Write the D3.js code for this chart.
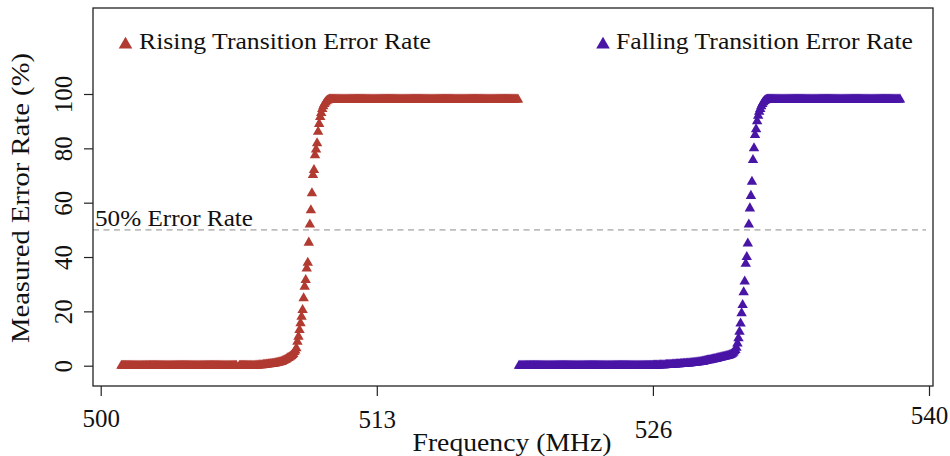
<!DOCTYPE html>
<html><head><meta charset="utf-8">
<script src="https://cdn.jsdelivr.net/npm/d3@7/dist/d3.min.js"></script>
<style>body{margin:0;background:#fff}svg{display:block}text{font-family:"Liberation Serif","Times New Roman",serif;fill:#111}</style>
</head><body><svg id="chart" width="950" height="456"></svg>
<script>
// ---------------- data ----------------
const seriesNames = ["Rising Transition Error Rate", "Falling Transition Error Rate"];
const seriesColors = ["#B13A31", "#4915A6"];
const stepMHz = 0.05;            // frequency sweep step
const risingStartMHz = 501.0;    // first rising-sweep frequency
const fallingStartMHz = 520.2;   // first falling-sweep frequency

// measured error rate (%) for each sweep step (null = no sample)
const risingRate = [
0,0,0,0,0,0,0,0,0,0,0,0,0,0,0,0,0,0,0,0,
0,0,0,0,0,0,0,0,0,0,0,0,0,0,0,0,0,0,0,0,
0,0,0,0,0,0,0,0,0,0,0,0,0,0,0,0,0,0,0,0,
0,0,0,0,0,0,0,0,0,0,0,0,0,0,0,0,0,0,0,0,
0,0,0,0,0,0,0,0,0,0,0,0,0,0,0,0,0,0,0,0,
0,0,0,0,0,0,0,0,0,0,0,0,null,null,0,0,0,0,0,0,
0,0,0,0,0,0,0,0,0,0,
0.1,0.1,0.1,0.2,0.2,0.2,0.2,0.3,0.3,0.3,
0.4,0.4,0.5,0.5,0.6,0.6,0.7,0.7,0.8,0.9,
1.0,1.1,1.2,1.3,1.4,1.5,1.7,1.9,2.1,2.3,
2.6,2.8,3.0,3.3,3.6,3.9,4.3,5.0,
5.6,6.4,8.8,10.7,13.1,15.6,18.0,20.5,24.8,29.1,31.5,35.8,37.9,45.3,52.0,57.2,63.5,70.2,72.0,77.5,
79.6,81.9,86.1,89.0,91.5,93.0,94.5,95.5,96.3,96.9,97.3,97.6,97.8,
98,98,98,98,98,98,98,98,98,98,98,98,98,98,98,98,98,98,98,98,
98,98,98,98,98,98,98,98,98,98,98,98,98,98,98,98,98,98,98,98,
98,98,98,98,98,98,98,98,98,98,98,98,98,98,98,98,98,98,98,98,
98,98,98,98,98,98,98,98,98,98,98,98,98,98,98,98,98,98,98,98,
98,98,98,98,98,98,98,98,98,98,98,98,98,98,98,98,98,98,98,98,
98,98,98,98,98,98,98,98,98,98,98,98,98,98,98,98,98,98,98,98,
98,98,98,98,98,98,98,98,98,98,98,98,98,98,98,98,98,98,98,98,
98,98,98,98,98,98,98,98,98,98,98,98,98,98,98,98,98,98,98,98,
98,98,98,98,98,98,98,98,98,98,98,98,98,98,98,98,98,98,98,98,
98,98,98
];

const fallingRate = [
0,0,0,0,0,0,0,0,0,0,0,0,0,0,0,0,0,0,0,0,
0,0,0,0,0,0,0,0,0,0,0,0,0,0,0,0,0,0,0,0,
0,0,0,0,0,0,0,0,0,0,0,0,0,0,0,0,0,0,0,0,
0,0,0,0,0,0,0,0,0,0,0,0,0,0,0,0,0,0,0,0,
0,0,0,0,0,0,0,0,0,0,0,0,0,0,0,0,0,0,0,0,
0,0,0,0,0,0,0,0,0,0,0,0,0,0,0,0,0,0,0,0,
0,0,0,0,0,0,0,0,0,0,
0.1,0.1,0.1,0.1,0.1,0.1,0.2,0.2,0.2,0.2,0.2,0.2,0.3,0.3,0.3,0.3,0.3,0.3,0.4,0.4,
0.4,0.4,0.5,0.5,0.5,0.5,
0.6,0.6,0.6,0.7,0.7,0.7,0.8,0.8,0.8,0.9,0.9,1.0,1.0,1.1,1.1,1.2,1.2,1.3,1.3,1.4,
1.4,1.5,1.5,1.6,1.7,1.8,1.9,2.0,2.0,2.1,2.2,2.3,2.4,2.5,2.5,2.6,2.7,2.8,2.9,3.0,
3.1,3.2,3.3,3.4,3.5,3.6,3.7,3.8,3.9,4.1,
4.4,4.8,5.3,5.8,6.6,8.2,10.1,12.5,15.5,19.3,22.3,27.0,31.0,37.5,40.0,45.0,52.0,57.9,62.5,67.7,
75.7,80.0,84.9,87.0,90.0,92.0,93.5,94.5,95.5,96.3,97.0,97.4,97.7,97.9,
98,98,98,98,98,98,98,98,98,98,98,98,98,98,98,98,98,98,98,98,
98,98,98,98,98,98,98,98,98,98,98,98,98,98,98,98,98,98,98,98,
98,98,98,98,98,98,98,98,98,98,98,98,98,98,98,98,98,98,98,98,
98,98,98,98,98,98,98,98,98,98,98,98,98,98,98,98,98,98,98,98,
98,98,98,98,98,98,98,98,98,98,98,98,98,98,98,98,98,98,98,98,
98,98,98,98,98,98,98,98,98,98,98,98,98,98,98,98,98,98,98,98,
98,98,98,98,98,98,98,98,98
];

const xTickValues = [500, 513.333, 526.667, 540];
const xTickLabels = ["500", "513", "526", "540"];
const yTickValues = [0, 20, 40, 60, 80, 100];
const thresholdRate = 50;
const thresholdLabel = "50% Error Rate";
const xTitle = "Frequency (MHz)";
const yTitle = "Measured Error Rate (%)";

// ---------------- layout ----------------
const box = {left: 93, top: 8, right: 933, bottom: 386};
const xLabelShift = [0, 1, 11, -3];

const svg = d3.select("#chart");
const x = d3.scaleLinear().domain([500, 540]).range([100.7, 929]);
const y = d3.scaleLinear().domain([0, 100]).range([365.7, 94]);

function toPoints(start, rates) {
  return rates.map((v, i) => ({f: start + i * stepMHz, v}))
              .filter(d => d.v !== null);
}
const series = [toPoints(risingStartMHz, risingRate), toPoints(fallingStartMHz, fallingRate)];

// threshold line
svg.append("line")
  .attr("x1", box.left).attr("x2", 926)
  .attr("y1", y(thresholdRate)).attr("y2", y(thresholdRate))
  .attr("stroke", "#bdbdbd").attr("stroke-width", 1.6)
  .attr("stroke-dasharray", "6,4.5");
svg.append("text").attr("x", 95).attr("y", y(thresholdRate) - 3.5)
  .attr("font-size", 23).attr("textLength", 158).attr("lengthAdjust", "spacingAndGlyphs")
  .text(thresholdLabel);

// points
const tri = d3.symbol().type(d3.symbolTriangle).size(47);
series.forEach((pts, si) => {
  svg.append("g").selectAll("path").data(pts).join("path")
    .attr("d", tri)
    .attr("transform", d => `translate(${x(d.f)},${y(d.v)})`)
    .attr("fill", seriesColors[si]);
});

// box
svg.append("rect")
  .attr("x", box.left).attr("y", box.top)
  .attr("width", box.right - box.left).attr("height", box.bottom - box.top)
  .attr("fill", "none").attr("stroke", "#222").attr("stroke-width", 1.3);

// y axis
const yAxis = svg.append("g").attr("transform", `translate(${box.left},0)`)
  .call(d3.axisLeft(y).tickValues(yTickValues).tickSize(9).tickFormat(d3.format("d")));
yAxis.select(".domain").remove();
yAxis.selectAll(".tick line").attr("stroke", "#222").attr("stroke-width", 1.2);
yAxis.selectAll(".tick text")
  .attr("x", null).attr("dy", null).attr("text-anchor", "middle")
  .attr("transform", "translate(-21.5,0) rotate(-90)")
  .attr("font-size", 25).attr("font-family", "Liberation Serif").attr("fill", "#111");

// x axis
const xAxis = svg.append("g").attr("transform", `translate(0,${box.bottom})`)
  .call(d3.axisBottom(x).tickValues(xTickValues).tickSize(10).tickFormat((d, i) => xTickLabels[i]));
xAxis.select(".domain").remove();
xAxis.selectAll(".tick line").attr("stroke", "#222").attr("stroke-width", 1.2);
xAxis.selectAll(".tick text")
  .attr("dy", null)
  .attr("y", (d, i) => 40.5 + xLabelShift[i])
  .attr("font-size", 25).attr("font-family", "Liberation Serif").attr("fill", "#111");

// titles
svg.append("text").attr("x", 512).attr("y", 451).attr("text-anchor", "middle")
  .attr("font-size", 25).attr("textLength", 199).attr("lengthAdjust", "spacingAndGlyphs")
  .text(xTitle);
svg.append("text").attr("transform", "translate(29,198) rotate(-90)").attr("text-anchor", "middle")
  .attr("font-size", 25).attr("textLength", 290).attr("lengthAdjust", "spacingAndGlyphs")
  .text(yTitle);

// legend
const legendPos = [{tx: 125.5, tt: 139, len: 292}, {tx: 603, tt: 616, len: 297}];
const legTri = d3.symbol().type(d3.symbolTriangle).size(80);
seriesNames.forEach((name, i) => {
  svg.append("path").attr("d", legTri)
    .attr("transform", `translate(${legendPos[i].tx},44.5)`)
    .attr("fill", seriesColors[i]);
  svg.append("text").attr("x", legendPos[i].tt).attr("y", 49)
    .attr("font-size", 23).attr("textLength", legendPos[i].len).attr("lengthAdjust", "spacingAndGlyphs")
    .text(name);
});
</script>
</body></html>
